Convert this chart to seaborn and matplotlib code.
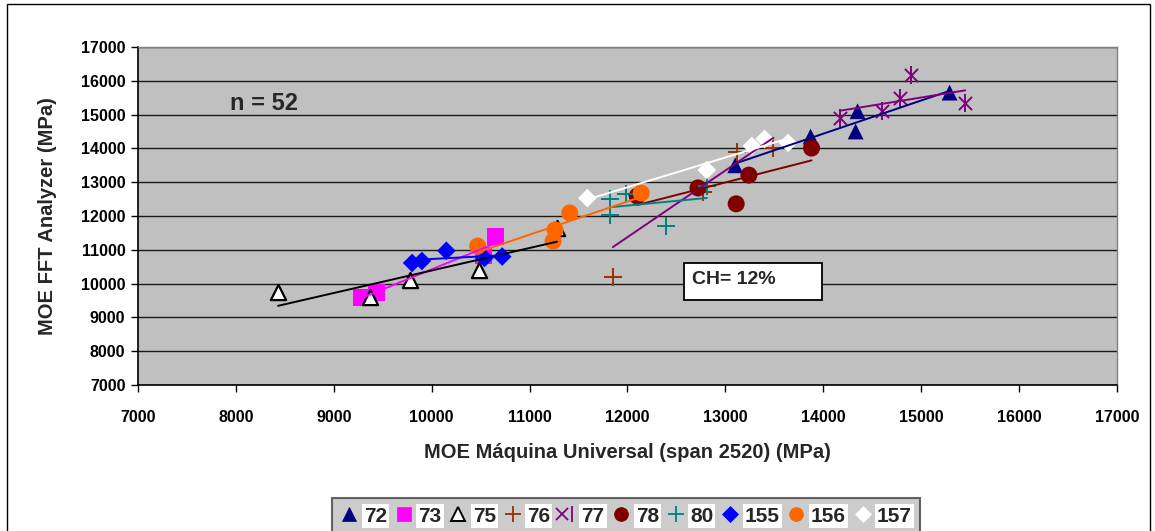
import numpy as np
import matplotlib
matplotlib.use("Agg")
import matplotlib.pyplot as plt
from matplotlib.lines import Line2D
from matplotlib.patches import Rectangle
from matplotlib.legend_handler import HandlerTuple
import seaborn as sns

# --- data: MOE static (universal machine) vs MOE dynamic (FFT analyzer), MPa ---
x72 = [13100, 13870, 14350, 14330, 15290]
y72 = [13500, 14350, 15100, 14500, 15650]

x73 = [9280, 9440, 10530, 10650]
y73 = [9600, 9750, 10820, 11400]

x75 = [8430, 9370, 9780, 10480, 11280]
y75 = [9750, 9600, 10100, 10400, 11650]

x76 = [11850, 12100, 12770, 13120, 13490]
y76 = [10200, 12620, 12710, 13900, 14010]

x77 = [14170, 14600, 14780, 14900, 15450]
y77 = [14900, 15110, 15490, 16170, 15340]

x78 = [12100, 12720, 13110, 13240, 13880]
y78 = [12590, 12830, 12360, 13210, 14010]

x80 = [11820, 11820, 11980, 12390, 12810]
y80 = [12500, 12030, 12650, 11700, 12890]

x155 = [9800, 9900, 10150, 10540, 10720]
y155 = [10610, 10670, 10970, 10760, 10800]

x156 = [10470, 11240, 11260, 11410, 12140]
y156 = [11110, 11260, 11590, 12090, 12680]

x157 = [11590, 12810, 13270, 13400, 13640]
y157 = [12530, 13360, 14070, 14280, 14160]

labels = ["72", "73", "75", "76", "77", "78", "80", "155", "156", "157"]
xs = [x72, x73, x75, x76, x77, x78, x80, x155, x156, x157]
ys = [y72, y73, y75, y76, y77, y78, y80, y155, y156, y157]

x_ticks = list(range(7000, 17001, 1000))
y_ticks = list(range(7000, 17001, 1000))

# --- styles per series ---
styles = {
    "72":  dict(marker="^", fc="#000080", ec="none", lw=0, s=130),
    "73":  dict(marker="s", fc="#FF00FF", ec="none", lw=0, s=150),
    "75":  dict(marker="^", fc="white", ec="black", lw=1.6, s=120),
    "76":  dict(marker="+", fc="#993300", ec="#993300", lw=1.4, s=170),
    "77":  dict(marker="star", fc="#800080", ec="#800080", lw=1.4, s=150),
    "78":  dict(marker="o", fc="#800000", ec="none", lw=0, s=150),
    "80":  dict(marker="+", fc="#008080", ec="#008080", lw=1.4, s=170),
    "155": dict(marker="D", fc="#0000FF", ec="none", lw=0, s=90),
    "156": dict(marker="o", fc="#FF6600", ec="none", lw=0, s=150),
    "157": dict(marker="D", fc="white", ec="none", lw=0, s=90),
}
trend_colors = {
    "72": "#000080", "73": "#FF00FF", "75": "black", "76": "#800080",
    "77": "#800080", "78": "#800000", "80": "#008080", "155": "#0000FF",
    "156": "#FF6600", "157": "white",
}

sns.set_style("white")
plt.rcParams["font.family"] = ["Liberation Sans", "DejaVu Sans"]
plt.rcParams["font.weight"] = "bold"

fig = plt.figure(figsize=(11.55, 5.31), dpi=100)
ax = fig.add_axes([138 / 1155, 1 - 385 / 531, (1117 - 138) / 1155, (385 - 47) / 531])
ax.set_facecolor("#C0C0C0")

# horizontal gridlines
for yv in y_ticks:
    ax.axhline(yv, color="#1a1a1a", lw=1.0, zorder=1)

# markers
for lab, xv, yv in zip(labels, xs, ys):
    st = styles[lab]
    if st["marker"] == "star":
        sns.scatterplot(x=xv, y=yv, ax=ax, marker="x", color=st["fc"],
                        s=st["s"] * 0.6, linewidth=st["lw"], zorder=3)
        sns.scatterplot(x=xv, y=yv, ax=ax, marker="|", color=st["fc"],
                        s=st["s"], linewidth=st["lw"], zorder=3)
    elif st["marker"] == "+":
        sns.scatterplot(x=xv, y=yv, ax=ax, marker="+", color=st["fc"],
                        s=st["s"], linewidth=st["lw"], zorder=3)
    else:
        sns.scatterplot(x=xv, y=yv, ax=ax, marker=st["marker"], color=st["fc"],
                        edgecolor=st["ec"], s=st["s"], linewidth=st["lw"], zorder=3)

# linear trendlines over each series' range
for lab, xv, yv in zip(labels, xs, ys):
    sns.regplot(x=np.array(xv, float), y=np.array(yv, float), ax=ax, scatter=False,
                ci=None, truncate=True,
                line_kws=dict(color=trend_colors[lab], lw=1.4, zorder=4))

ax.set_xlim(7000, 17000)
ax.set_ylim(7000, 17000)
ax.set_xticks(x_ticks)
ax.set_yticks(y_ticks)
ax.set_xticklabels([str(t) for t in x_ticks], fontsize=11.5, fontweight="bold")
ax.set_yticklabels([str(t) for t in y_ticks], fontsize=11.5, fontweight="bold")
ax.tick_params(axis="x", direction="out", length=5, width=1, pad=13, colors="black")
ax.tick_params(axis="y", direction="out", length=5, width=1, pad=4, colors="black")
ax.tick_params(bottom=True, left=True)
ax.set_xlabel("MOE Máquina Universal (span 2520) (MPa)", fontsize=14.5,
              fontweight="bold", labelpad=13)
ax.set_ylabel("MOE FFT Analyzer (MPa)", fontsize=14.5, fontweight="bold", labelpad=17)

for side in ["left", "bottom"]:
    ax.spines[side].set_color("black")
    ax.spines[side].set_linewidth(1.2)
for side in ["top", "right"]:
    ax.spines[side].set_color("#808080")
    ax.spines[side].set_linewidth(1.0)

ax.text(7940, 15343, "n = 52", fontsize=17, fontweight="bold", ha="left", va="center")

# moisture content box
ax.add_patch(Rectangle((12577, 9515), 13987 - 12577, 10610 - 9515, facecolor="white",
                       edgecolor="black", linewidth=1.3, zorder=6))
ax.text(12660, 10130, "CH= 12%", fontsize=14, fontweight="bold", ha="left",
        va="center", zorder=7)

# legend
handles = []
for lab in labels:
    st = styles[lab]
    if st["marker"] == "star":
        h = (Line2D([], [], marker="x", ls="none", color=st["fc"], ms=8, mew=1.3),
             Line2D([], [], marker="|", ls="none", color=st["fc"], ms=11, mew=1.3))
    elif st["marker"] == "+":
        h = Line2D([], [], marker="+", ls="none", color=st["fc"], ms=12, mew=1.3)
    else:
        h = Line2D([], [], marker=st["marker"], ls="none", markerfacecolor=st["fc"],
                   markeredgecolor=(st["ec"] if st["ec"] != "none" else st["fc"]),
                   markeredgewidth=(1.4 if lab == "75" else 0.5),
                   ms=(8 if st["marker"] == "D" else 10))
    handles.append(h)

leg = fig.legend(handles, labels, ncol=10, loc="center",
                 bbox_to_anchor=(626 / 1155, 1 - 516 / 531),
                 frameon=True, fancybox=False, facecolor="#C0C0C0", edgecolor="#404040",
                 handlelength=0.9, handletextpad=0.25, columnspacing=0.35,
                 borderpad=0.4, prop=dict(size=15, weight="bold"),
                 handler_map={tuple: HandlerTuple(ndivide=None, pad=0)})
leg.get_frame().set_linewidth(1.5)
for t in leg.get_texts():
    t.set_bbox(dict(facecolor="white", edgecolor="none", pad=1.5))

# outer chart border
fig.patches.append(Rectangle((7 / 1155, -0.2), 1143 / 1155, 1.2 - 4 / 531,
                             transform=fig.transFigure, fill=False,
                             edgecolor="black", linewidth=1.0))

fig.savefig("out.png", dpi=100)
